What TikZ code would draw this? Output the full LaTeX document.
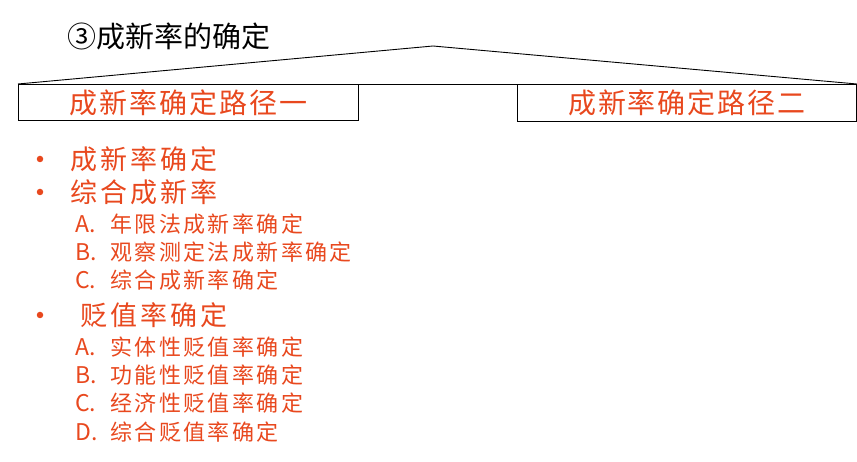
\documentclass[tikz,border=0pt]{standalone}
\usepackage{fontspec}
\setmainfont{Noto Sans CJK SC}
\newfontfamily\cnfont{Noto Sans CJK SC}[LetterSpace=11]
\newfontfamily\boxfont{Noto Sans CJK SC}[LetterSpace=7]
\usetikzlibrary{positioning}
\definecolor{rateorange}{RGB}{232,72,30}

\begin{document}
\begin{tikzpicture}[x=1pt, y=-1pt, every node/.style={inner sep=0pt},
	pathbox/.style={draw, line width=0.9pt, minimum width=340, minimum height=36, anchor=north west, text=rateorange, font=\boxfont\fontsize{28}{28}\selectfont},
	item/.style={anchor=west, text=rateorange, font=\cnfont\fontsize{27}{27}\selectfont},
	subitem/.style={anchor=west, text=rateorange, font=\cnfont\fontsize{22}{22}\selectfont},
	letter/.style={anchor=west, text=rateorange, font=\fontsize{23}{23}\selectfont},
	dot/.style={circle, fill=rateorange, minimum size=6.5pt, inner sep=0pt}]
	\useasboundingbox (0,0) rectangle (857,462);
	\node [anchor=west, font=\fontsize{29}{29}\selectfont] (title) at (67,36) {③成新率的确定};
	\node [pathbox] (pathA) at (18,84) {成新率确定路径一};
	\node [pathbox, minimum width=339, minimum height=37] (pathB) at (517,84) {成新率确定路径二};
	\coordinate (apex) at (433,46);
	\draw [line width=0.9pt] (pathA.north west) -- (apex) -- (pathB.north east);
	\draw [line width=0.9pt] (pathA.north east) -- (pathB.north west);
	\foreach \y/\t [count=\i] in {159/成新率确定, 192/综合成新率}
	{
		\node [dot] (dot\i) at (40,\y) {};
		\node [item] (top\i) at (70,\y) {\t};
	}
	\node [dot] (dot3) at (40,315) {};
	\node [item] (top3) at (80,315) {贬值率确定};
	\foreach \y/\l/\t [count=\i] in {224/A/年限法成新率确定, 252/B/观察测定法成新率确定, 280/C/综合成新率确定}
	{
		\node [letter] (newL\i) at (75,\y) {\l.};
		\node [subitem] (newT\i) at (110,\y) {\t};
	}
	\foreach \y/\l/\t [count=\i] in {347/A/实体性贬值率确定, 375/B/功能性贬值率确定, 403/C/经济性贬值率确定, 432/D/综合贬值率确定}
	{
		\node [letter] (depL\i) at (75,\y) {\l.};
		\node [subitem] (depT\i) at (110,\y) {\t};
	}
\end{tikzpicture}
\end{document}
